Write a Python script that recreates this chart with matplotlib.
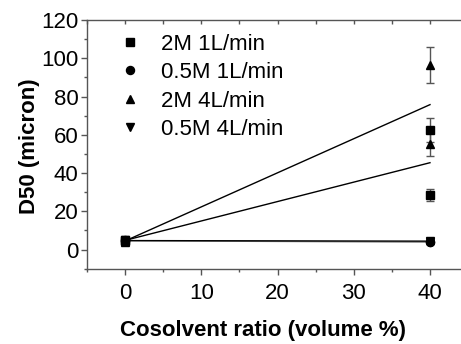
import numpy as np
import matplotlib
matplotlib.use("Agg")
import matplotlib.pyplot as plt
from matplotlib.ticker import MultipleLocator, NullFormatter

plt.rcParams['font.family'] = ['Liberation Sans', 'DejaVu Sans']

# Cosolvent ratio (volume %) for each replicate measurement
cosolvent = [0, 0, 40, 40]

labels = ["2M 1L/min", "0.5M 1L/min", "2M 4L/min", "0.5M 4L/min"]
markers = ["s", "o", "^", "v"]
fit_colors = ["black", "#7a7a7a", "black", "black"]

d50_2m_1l = [4.6, 5.0, 62.4, 28.4]
err_2m_1l = [1.5, 1.5, 6.3, 3.0]
d50_05m_1l = [4.4, 4.8, 4.0, 3.8]
err_05m_1l = [1.2, 1.2, 0.8, 0.8]
d50_2m_4l = [4.2, 4.8, 96.5, 55.0]
err_2m_4l = [1.5, 1.5, 9.5, 6.0]
d50_05m_4l = [4.5, 4.9, 4.6, 4.2]
err_05m_4l = [1.2, 1.2, 0.8, 0.8]

series = [(d50_2m_1l, err_2m_1l), (d50_05m_1l, err_05m_1l),
          (d50_2m_4l, err_2m_4l), (d50_05m_4l, err_05m_4l)]
sizes = [5.2, 5.8, 6.0, 6.0]

fig = plt.figure(figsize=(4.61, 3.44), dpi=100)
ax = fig.add_axes([0.1887, 0.2189, 0.8267, 0.7230])

xs = np.array(cosolvent, dtype=float)
for (y, e), m, lab, fc, ms in zip(series, markers, labels, fit_colors, sizes):
    y = np.array(y)
    slope, icpt = np.polyfit(xs, y, 1)
    xf = np.array([0.0, 40.0])
    ax.plot(xf, icpt + slope * xf, color=fc, lw=1.0, zorder=2)
    ax.errorbar(xs, y, yerr=e, fmt="none", ecolor="#555555", elinewidth=1.0,
                capsize=3, capthick=1.0, zorder=3)
    ax.plot(xs, y, linestyle="none", marker=m, color="black", ms=ms,
            label=lab, zorder=4)

ax.set_xlim(-5, 45)
ax.set_ylim(-10, 120)
ax.xaxis.set_major_locator(MultipleLocator(10))
ax.xaxis.set_minor_locator(MultipleLocator(5))
ax.yaxis.set_major_locator(MultipleLocator(20))
ax.yaxis.set_minor_locator(MultipleLocator(10))

for s in ax.spines.values():
    s.set_color("#555555")
    s.set_linewidth(1.0)
ax.spines["right"].set_visible(False)

ax.tick_params(axis="both", which="both", color="#555555", labelsize=16,
               labelcolor="black", direction="out", width=1)
ax.tick_params(axis="both", which="major", length=4)
ax.tick_params(axis="both", which="minor", length=2.5)
ax.tick_params(axis="x", which="both", pad=6)
ax.tick_params(axis="y", which="both", pad=2)

# inward ticks along the top edge
top = ax.secondary_xaxis("top")
top.xaxis.set_major_locator(MultipleLocator(5))
top.xaxis.set_major_formatter(NullFormatter())
top.tick_params(direction="in", length=3, width=1, color="#555555")
top.spines["top"].set_visible(False)

ax.set_xlabel("Cosolvent ratio (volume %)", fontsize=16, fontweight="bold")
ax.xaxis.set_label_coords(0.462, -0.205)
ax.set_ylabel("D50 (micron)", fontsize=16, fontweight="bold")
ax.yaxis.set_label_coords(-0.124, 0.491)

leg = ax.legend(loc="upper left", bbox_to_anchor=(0.06, 0.98), frameon=False,
                fontsize=16, handlelength=1.0, handletextpad=0.9,
                labelspacing=0.33, borderaxespad=0.0)

fig.savefig("out.png", dpi=100)
